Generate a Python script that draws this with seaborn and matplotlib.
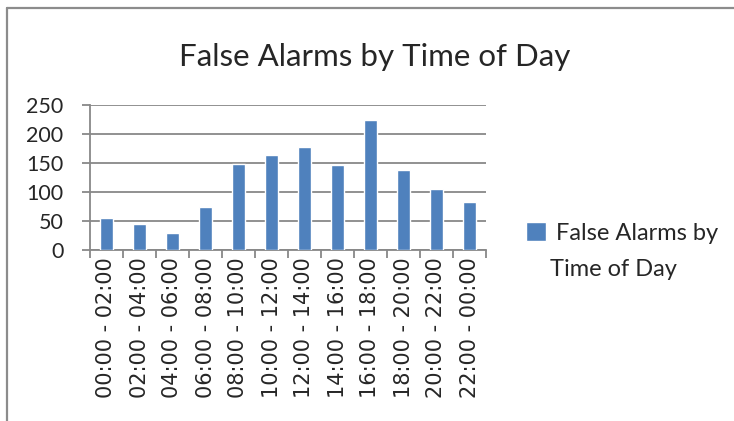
import matplotlib
matplotlib.use("Agg")
import matplotlib.pyplot as plt
import seaborn as sns
import pandas as pd
from matplotlib.lines import Line2D

# data
time_slots = ["00:00 - 02:00", "02:00 - 04:00", "04:00 - 06:00", "06:00 - 08:00",
              "08:00 - 10:00", "10:00 - 12:00", "12:00 - 14:00", "14:00 - 16:00",
              "16:00 - 18:00", "18:00 - 20:00", "20:00 - 22:00", "22:00 - 00:00"]
false_alarms = [56, 45, 29, 75, 148, 163, 177, 146, 225, 138, 106, 83]
y_ticks = [0, 50, 100, 150, 200, 250]
chart_title = "False Alarms by Time of Day"
series_name = "False Alarms by Time of Day"

bar_color = "#4F81BD"
grid_color = "#888888"

sns.set_theme(style="white")
plt.rcParams['font.family'] = ['Lato', 'DejaVu Sans']

df = pd.DataFrame({"slot": time_slots, "alarms": false_alarms})

fig = plt.figure(figsize=(7.34, 4.21), dpi=100)
ax = fig.add_axes([90 / 734, 1 - 250 / 421, 396 / 734, 145 / 421])

sns.barplot(data=df, x="slot", y="alarms", color=bar_color, width=0.4,
            saturation=1, ax=ax, zorder=3)

ax.set_ylim(0, 250)
ax.set_xlim(-0.5, len(time_slots) - 0.5)
ax.set_yticks(y_ticks)
ax.set_xlabel("")
ax.set_ylabel("")
ax.yaxis.grid(True, color=grid_color, lw=1.3, zorder=0)
ax.set_axisbelow(True)

for side in ["top", "right"]:
    ax.spines[side].set_visible(False)
for side in ["left", "bottom"]:
    ax.spines[side].set_color(grid_color)
    ax.spines[side].set_linewidth(1.3)

# y ticks outward, x ticks at category boundaries
ax.tick_params(axis="y", which="major", length=6, width=1.3, color=grid_color,
               left=True, labelsize=15.5, pad=13)
ax.set_xticks([i - 0.5 for i in range(len(time_slots) + 1)], minor=True)
ax.tick_params(axis="x", which="minor", length=6, width=1.3, color=grid_color, bottom=True)
ax.tick_params(axis="x", which="major", length=0, pad=5, labelrotation=90,
               labelsize=15, labelfontfamily="DejaVu Sans")

fig.text(375 / 734, 1 - 57 / 421, chart_title,
         ha="center", va="center", fontsize=22.5)

# legend: square with first line, second line below
bars = ax.patches
leg = fig.legend(handles=[bars[0]], labels=["False Alarms by"], loc="center left",
                 bbox_to_anchor=(526 / 734, 1 - 233 / 421), frameon=False,
                 fontsize=17, handlelength=0.85, handleheight=0.85,
                 handletextpad=0.4, borderpad=0, borderaxespad=0)
fig.text(550 / 734, 1 - 269 / 421, "Time of Day", ha="left", va="center", fontsize=17)

# chart frame (top and left edges visible in the reference)
fig.add_artist(Line2D([7 / 734, 1], [1 - 7.5 / 421, 1 - 7.5 / 421],
                      transform=fig.transFigure, color="#8c8c8c", lw=1.6))
fig.add_artist(Line2D([7 / 734, 7 / 734], [0, 1 - 7.5 / 421],
                      transform=fig.transFigure, color="#8c8c8c", lw=1.6))

fig.savefig("out.png", dpi=100)
